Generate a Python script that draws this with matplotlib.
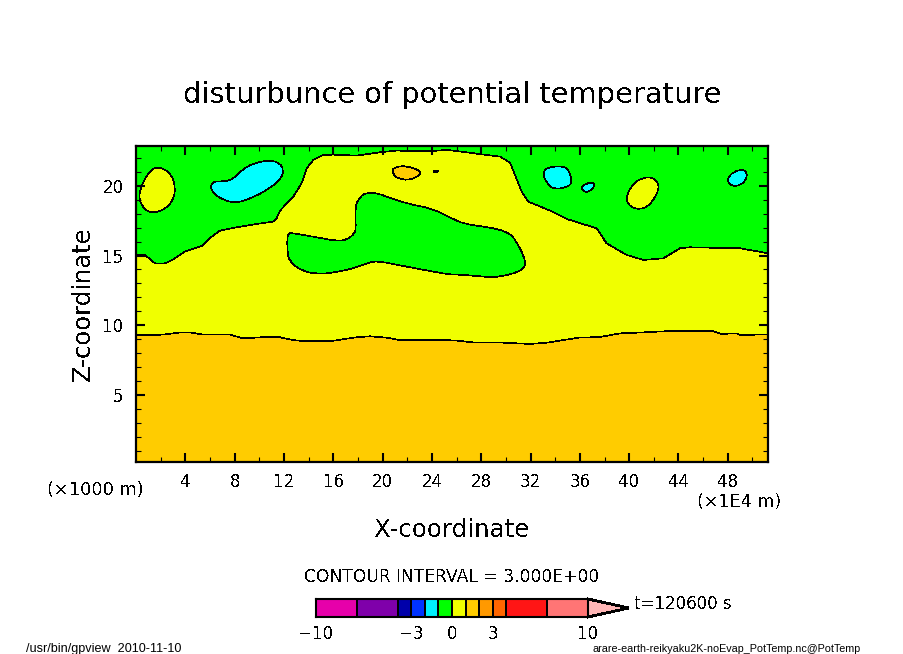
import numpy as np
import matplotlib
matplotlib.use("Agg")
import matplotlib.pyplot as plt
from matplotlib.colors import ListedColormap, BoundaryNorm
from matplotlib.patches import PathPatch
from matplotlib.path import Path

plt.rcParams["font.family"] = ["DejaVu Sans"]
plt.rcParams["text.antialiased"] = False

# contour between the 0..3 and 3..6 bands
iface_x = [0, 2.22, 3.43, 4.51, 5.32, 7.62, 8.70, 10.19, 11.68, 12.76, 13.70, 15.87, 17.08, 17.89,
           18.97, 20.33, 21.41, 22.49, 25.87, 27.23, 29.93, 31.96, 33.31, 35.88, 37.63, 39.26,
           41.15, 42.9, 46.82, 47.5, 48.7, 48.99, 51.26]
iface_z = [9.28, 9.33, 9.47, 9.47, 9.35, 9.33, 9.06, 9.14, 9.14, 8.94, 8.85, 8.87, 9.04, 9.14,
           9.21, 9.11, 8.94, 8.94, 8.92, 8.78, 8.75, 8.66, 8.75, 9.11, 9.16, 9.42,
           9.49, 9.57, 9.57, 9.38, 9.42, 9.30, 9.35]

# lower edge of the upper green band
green_x = [0, 0.73, 1.54, 2.35, 3.03, 3.97, 5.32, 6.14, 6.81, 8.16, 9.78, 11.14, 11.41, 11.68, 12.76,
           13.43, 13.84, 14.38, 15.19, 16.0, 17.89, 19.79, 21.14, 22.49, 23.98, 25.19, 26.82, 28.04,
           29.52, 30.34, 30.74, 31.28, 31.82, 33.58, 34.93, 37.36, 38.17, 39.8, 41.15, 42.77, 44.12,
           44.93, 46.55, 48.99, 51.26]
green_z = [15.08, 15.04, 14.44, 14.44, 14.73, 15.28, 15.68, 16.35, 16.78, 17.02, 17.26, 17.43, 17.67, 18.22, 19.22,
           20.18, 21.25, 21.85, 22.21, 22.23, 22.16, 22.40, 22.52, 22.49, 22.49, 22.57, 22.4, 22.25,
           22.09, 21.66, 20.77, 19.58, 18.86, 18.22, 17.62, 16.95, 15.87, 15.04, 14.68, 14.8, 15.52,
           15.59, 15.56, 15.52, 15.16]

# closed contours
mid_green_x = [12.27, 12.76, 14.38, 16.27, 17.08, 17.76, 17.84, 17.76, 18.16, 18.7, 19.51, 20.87, 22.49,
               23.98, 25.46, 26.55, 28.71, 30.07, 30.74, 31.74, 31.15, 29.52, 28.71, 26.82, 25.47, 25.19,
               21.95, 19.51, 18.7, 17.89, 16.27, 14.65, 13.3, 12.49, 12.27]
mid_green_z = [16.64, 16.59, 16.35, 16.04, 16.11, 16.59, 17.07, 18.5, 19.22, 19.5, 19.5, 19.03, 18.62,
               18.38, 17.74, 17.26, 17.02, 16.71, 16.23, 14.44, 13.84, 13.48, 13.44, 13.6, 13.65, 13.67,
               14.2, 14.63, 14.44, 14.15, 13.8, 13.65, 13.96, 14.56, 15.16]
yellow_a_x = [1.54, 2.35, 2.89, 3.19, 3.08, 2.49, 1.41, 0.73, 0.24, 0.32, 0.86]
yellow_a_z = [21.37, 21.18, 20.77, 19.94, 19.1, 18.38, 18.02, 18.26, 18.98, 19.7, 20.77]
yellow_b_x = [39.8, 40.34, 41.15, 41.96, 42.45, 42.23, 41.55, 40.88, 40.2, 39.8]
yellow_b_z = [19.34, 20.18, 20.6, 20.6, 20.06, 19.34, 18.5, 18.31, 18.43, 18.86]
cyan_a_x = [6.27, 7.08, 7.89, 8.57, 9.51, 10.87, 11.68, 11.97, 11.81, 10.87, 9.51, 8.16, 7.08, 6.27, 6.03]
cyan_a_z = [20.32, 20.3, 20.46, 21.13, 21.61, 21.85, 21.61, 21.13, 20.53, 19.82, 19.17, 18.74, 18.98, 19.46, 19.94]
cyan_b_x = [32.99, 33.31, 34.66, 35.12, 35.42, 34.66, 33.85, 33.31]
cyan_b_z = [20.89, 21.32, 21.42, 21.13, 20.13, 19.82, 19.77, 20.18]
cyan_c_x = [36.07, 36.55, 37.09, 37.2, 36.82, 36.42]
cyan_c_z = [19.87, 20.18, 20.25, 19.94, 19.63, 19.5]
cyan_d_x = [47.99, 48.45, 49.26, 49.58, 49.47, 48.99, 48.31, 47.99]
cyan_d_z = [20.53, 21.01, 21.18, 20.89, 20.41, 20.01, 19.98, 20.29]
orange_a_x = [20.73, 21.14, 21.95, 23.08, 23.08, 22.22, 21.54, 21.0]
orange_a_z = [21.13, 21.37, 21.42, 21.08, 20.77, 20.41, 20.46, 20.65]
orange_b_x = [24.03, 24.3, 24.6, 24.3]
orange_b_z = [21.04, 21.13, 21.04, 20.96]

GREEN = "#00ff00"
YELLOW = "#f0ff00"
ORANGE = "#ffcc00"
CYAN = "#00ffff"

# colour bar
bar_levels = [-10, -7, -4, -3, -2, -1, 0, 1, 2, 3, 4, 7, 10]
bar_ticks = [-10, -3, 0, 3, 10]
bar_colors = ["#e600aa", "#7f00aa", "#0000aa", "#0033ff", "#00f0ff", "#00ff00",
              "#f0ff00", "#ffcc00", "#ff9900", "#ff6600", "#ff1515", "#ff7575"]
over_color = "#ffb6b6"
over_tip = 13

XLIM = (0, 51.26)
ZLIM = (0.2, 22.85)
W, H = 904, 654
LINE = 0.45


def axbox(left, top, right, bottom):
    return [left / W, 1 - bottom / H, (right - left) / W, (bottom - top) / H]


def smooth_closed(x, z):
    # quadratic segments through the midpoints, keeps the blobs round
    pts = np.column_stack((x, z))
    mids = (pts + np.roll(pts, -1, axis=0)) / 2
    verts = [mids[-1]]
    codes = [Path.MOVETO]
    for p, m in zip(pts, mids):
        verts += [p, m]
        codes += [Path.CURVE3, Path.CURVE3]
    return Path(verts, codes)


fig = plt.figure(figsize=(W / 100, H / 100), dpi=100)
ax = fig.add_axes(axbox(136, 146, 768, 462))
ax.set_facecolor(YELLOW)

ax.fill_between(iface_x, ZLIM[0], iface_z, color=ORANGE, lw=0, antialiased=False)
ax.fill_between(green_x, green_z, ZLIM[1], color=GREEN, lw=0, antialiased=False)
ax.plot(iface_x, iface_z, color="k", lw=LINE, antialiased=False)
ax.plot(green_x, green_z, color="k", lw=LINE, antialiased=False)

blobs = [
    (mid_green_x, mid_green_z, GREEN),
    (yellow_a_x, yellow_a_z, YELLOW),
    (yellow_b_x, yellow_b_z, YELLOW),
    (cyan_a_x, cyan_a_z, CYAN),
    (cyan_b_x, cyan_b_z, CYAN),
    (cyan_c_x, cyan_c_z, CYAN),
    (cyan_d_x, cyan_d_z, CYAN),
    (orange_a_x, orange_a_z, ORANGE),
    (orange_b_x, orange_b_z, ORANGE),
]
for bx, bz, col in blobs:
    ax.add_patch(PathPatch(smooth_closed(bx, bz), fc=col, ec="k", lw=LINE, antialiased=False))

ax.set_xlim(*XLIM)
ax.set_ylim(*ZLIM)
ax.set_xticks(np.arange(4, 50, 4))
ax.set_xticks(np.arange(2, 51, 2), minor=True)
ax.set_yticks([5, 10, 15, 20])
ax.set_yticks(np.arange(1, 23), minor=True)
ax.tick_params(which="major", direction="in", top=True, right=True, length=6.5, width=1.5, labelsize=12, pad=8)
ax.tick_params(which="minor", direction="in", top=True, right=True, length=3.6, width=0.8)
ax.tick_params(axis="y", which="major", pad=9)
for s in ax.spines.values():
    s.set_linewidth(1.6)

fig.text(452 / W, 1 - 95 / H, "disturbunce of potential temperature", fontsize=20.8, ha="center", va="center")
fig.text(83 / W, 1 - 304 / H, "Z-coordinate", fontsize=17.5, rotation=90, ha="center", va="center")
fig.text(452 / W, 1 - 530 / H, "X-coordinate", fontsize=17.6, ha="center", va="center")
fig.text(95 / W, 1 - 490 / H, "(×1000 m)", fontsize=12.8, ha="center", va="center")
fig.text(739 / W, 1 - 502 / H, "(×1E4 m)", fontsize=12.6, ha="center", va="center")
fig.text(452 / W, 1 - 577 / H, "CONTOUR INTERVAL = 3.000E+00", fontsize=12.3, ha="center", va="center")
fig.text(683 / W, 1 - 604 / H, "t=120600 s", fontsize=12, ha="center", va="center")
# the small footers lose strokes in DejaVu at this size
fig.text(26 / W, 1 - 652 / H, "/usr/bin/gpview  2010-11-10", fontsize=9.05, family="Liberation Sans",
         ha="left", va="baseline", antialiased=True)
fig.text(861 / W, 1 - 651.5 / H, "arare-earth-reikyaku2K-noEvap_PotTemp.nc@PotTemp", fontsize=7.75,
         family="Liberation Sans", ha="right", va="baseline", antialiased=True)

# colour bar on a value axis, overflow triangle on the right
cax = fig.add_axes(axbox(316, 599, 588, 617))
n = len(bar_colors)
cax.pcolormesh(bar_levels, [0, 1], np.arange(n).reshape(1, -1) + 0.5,
               cmap=ListedColormap(bar_colors), norm=BoundaryNorm(np.arange(n + 1), n),
               edgecolors="k", linewidth=1.1, antialiased=False)
cax.fill([bar_levels[-1], over_tip, bar_levels[-1]], [0, 0.5, 1], fc=over_color, ec="k", lw=1.3,
         clip_on=False, antialiased=False)
cax.set_xlim(bar_levels[0], bar_levels[-1])
cax.set_ylim(0, 1)
cax.set_yticks([])
cax.set_xticks(bar_ticks)
cax.set_xticklabels([str(v).replace("-", "\u2212") for v in bar_ticks], fontsize=12)
cax.tick_params(axis="x", length=0, pad=6)
for s in cax.spines.values():
    s.set_linewidth(1.5)

fig.savefig("out.png", dpi=100)
